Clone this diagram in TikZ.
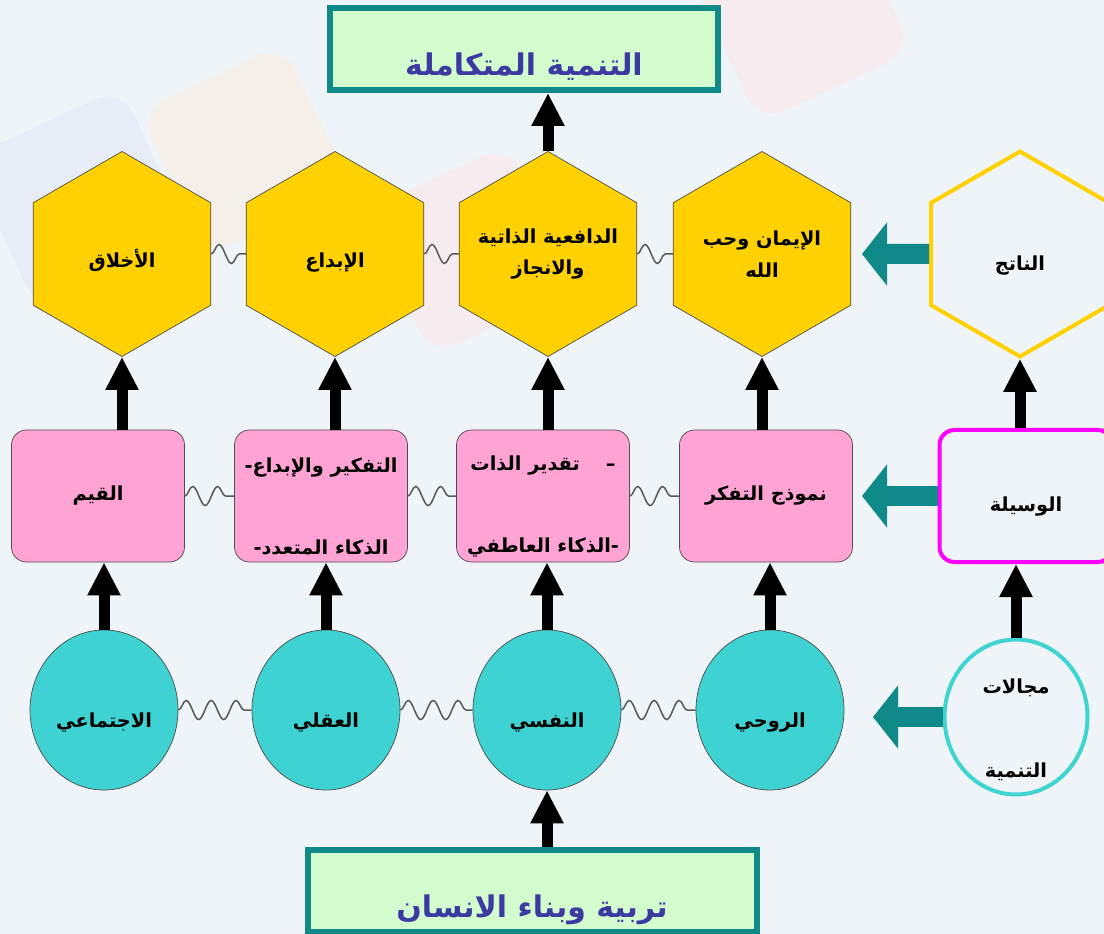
\documentclass[tikz,border=0pt]{standalone}
\usepackage{fontspec}
\newfontfamily\arabicfont[Script=Arabic]{DejaVu Sans}
\TeXXeTstate=1
\usetikzlibrary{arrows.meta,shapes.geometric,decorations.pathmorphing}

\definecolor{bgblue}{RGB}{238,244,248}
\definecolor{hexyellow}{RGB}{255,209,0}
\definecolor{boxpink}{RGB}{255,163,212}
\definecolor{cellteal}{RGB}{62,211,210}
\definecolor{darkteal}{RGB}{16,138,136}
\definecolor{titlegreen}{RGB}{211,252,206}
\definecolor{titleblue}{RGB}{58,58,160}
\definecolor{ringteal}{RGB}{64,212,208}
\definecolor{brightmagenta}{RGB}{255,0,255}
\definecolor{lavfaint}{RGB}{232,236,247}
\definecolor{peachfaint}{RGB}{245,239,234}
\definecolor{pinkfaint}{RGB}{246,236,240}

\newcommand{\artxt}[1]{{\arabicfont\bfseries\beginR #1\endR}}

\begin{document}
\begin{tikzpicture}[x=0.2mm,y=-0.2mm]

\tikzset{hexcell/.style={regular polygon,regular polygon sides=6,shape border rotate=30,
    minimum size=41mm,inner sep=-2mm,draw=black!70,fill=hexyellow,align=center,
    font=\fontsize{11}{18}\selectfont},
  pinkbox/.style={rectangle,rounded corners=3mm,minimum width=34.6mm,minimum height=26.4mm,
    inner sep=0,draw=black!70,fill=boxpink,align=center,font=\fontsize{11}{14}\selectfont},
  tealcell/.style={ellipse,minimum width=29.6mm,minimum height=32mm,inner sep=0,
    draw=black!70,fill=cellteal,align=center,font=\fontsize{11}{14}\selectfont},
  lowtext/.style={text height=#1,text depth=0pt},
  titlebox/.style={rectangle,line width=1.2mm,draw=darkteal,fill=titlegreen,minimum height=16.4mm,
    inner sep=0,text height=10.5mm,text depth=0pt,text=titleblue,font=\fontsize{17}{20}\selectfont},
  wavy/.style={draw=black!65,line width=0.3mm,decorate,decoration={snake,amplitude=1.9mm,segment length=5mm}},
  uparrow/.style={line width=2.2mm,-{Triangle[width=6.2mm,length=6.6mm]}},
  tealarrow/.style={line width=4mm,darkteal,-{Triangle[width=12.4mm,length=5mm]}}}

% Background
\fill[bgblue] (0,0) rectangle (1104,934);
\useasboundingbox (0,0) rectangle (1104,934);
\fill[lavfaint,rounded corners=6mm,rotate around={25:(80,200)}] (-5,115) rectangle (165,285);
\fill[peachfaint,rounded corners=6mm,rotate around={25:(245,150)}] (165,70) rectangle (325,230);
\fill[pinkfaint,rounded corners=6mm,rotate around={25:(800,10)}] (715,-75) rectangle (885,95);
\fill[pinkfaint,rounded corners=6mm,rotate around={25:(470,250)}] (390,170) rectangle (550,330);

% Top and bottom titles
\node[titlebox,minimum width=77.6mm] (top) at (524,49) {\artxt{التنمية المتكاملة}};
\node[titlebox,minimum width=89.8mm] (base) at (532,891) {\artxt{تربية وبناء الانسان}};

% Result row
\foreach \u/\x/\lab in {h1/122/{\artxt{الأخلاق}}, h2/335/{\artxt{الإبداع}}}
  \node[hexcell,lowtext=5.5mm] (\u) at (\x,254) {\lab};
\foreach \u/\x/\lab in {h3/548/{\artxt{الدافعية الذاتية}\\\artxt{والانجاز}},
    h4/762/{\artxt{الإيمان وحب}\\\artxt{الله}}}
  \node[hexcell] (\u) at (\x,254) {\lab};
\node[hexcell,lowtext=6.5mm,fill=bgblue,draw=hexyellow,line width=0.8mm] (h5) at (1020,254) {\artxt{الناتج}};

% Means row
\foreach \u/\x/\lab in {p1/98/{\artxt{القيم}},
    p2/321/{\rule{0pt}{7mm}\artxt{التفكير والإبداع-}\\[11.5mm]\artxt{الذكاء المتعدد-}},
    p3/543/{\rule{0pt}{7mm}\artxt{–\quad\ تقدير الذات}\\[11.5mm]\artxt{-الذكاء العاطفي}},
    p4/766/{\artxt{نموذج التفكر}}}
  \node[pinkbox] (\u) at (\x,496) {\lab};
\node[pinkbox,lowtext=6mm,fill=bgblue,draw=brightmagenta,line width=0.8mm] (p5) at (1026,496) {\artxt{الوسيلة}};

% Domain row
\foreach \u/\x/\lab in {e1/104/الاجتماعي, e2/326/العقلي, e3/547/النفسي, e4/770/الروحي}
  \node[tealcell,lowtext=7mm] (\u) at (\x,710) {\artxt{\lab}};
\node[tealcell,inner sep=-5mm,fill=bgblue,draw=ringteal,line width=0.8mm,minimum width=28.6mm,minimum height=31mm]
  (e5) at (1016,717) {\rule{0pt}{8mm}\artxt{مجالات}\\[12mm]\artxt{التنمية}};

% Wavy links
\foreach \a/\b in {h1/h2, h2/h3, h3/h4, p1/p2, p2/p3, p3/p4, e1/e2, e2/e3, e3/e4}
  \draw[wavy] (\a.east) -- (\b.west);

% Up arrows
\foreach \a/\b in {e1/p1, e2/p2, e3/p3, e4/p4, e5/p5}
  \draw[uparrow] (\a.north) -- (\a.north |- \b.south);
\foreach \a/\b in {p1/h1, p2/h2, p3/h3, p4/h4, p5/h5}
  \draw[uparrow] (\b.south |- \a.north) -- (\b.south);
\draw[uparrow] (h3.north) -- (h3.north |- top.south);
\draw[uparrow] (e3.south |- base.north) -- (e3.south);

% Side arrows
\coordinate (t1) at (862,254);
\coordinate (t2) at (862,496);
\coordinate (t3) at (873,717);
\draw[tealarrow] (h5.west) -- (t1);
\draw[tealarrow] (p5.west) -- (t2);
\draw[tealarrow] (e5.west) -- (t3);
\end{tikzpicture}
\end{document}
